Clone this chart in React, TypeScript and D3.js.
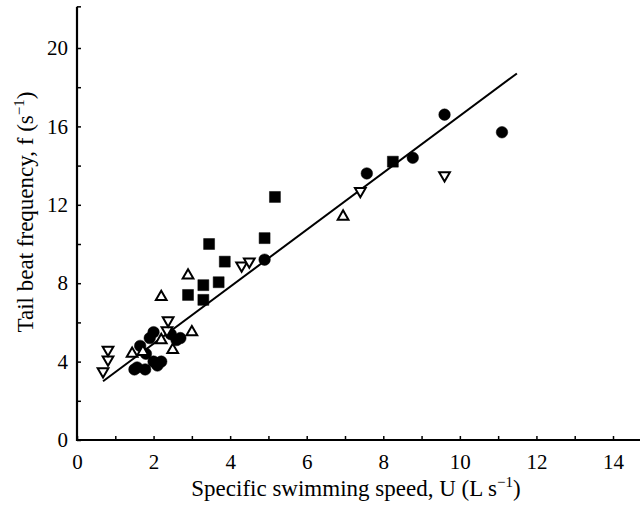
import React, { useRef, useEffect } from "react";
import * as d3 from "d3";

const W = 640;
const H = 517;
const FONT = "'Liberation Serif', 'Times New Roman', serif";

// filled circles
const circleU = [1.5, 1.78, 1.57, 2.1, 2.2, 2.0, 1.8, 1.65, 1.9, 2.0, 2.45, 2.6, 2.7, 4.9, 7.57, 8.77, 9.6, 11.1];
const circleF = [3.6, 3.6, 3.7, 3.8, 4.0, 4.0, 4.4, 4.8, 5.2, 5.5, 5.4, 5.1, 5.2, 9.2, 13.6, 14.4, 16.6, 15.7];
// filled squares
const squareU = [2.9, 3.3, 3.3, 3.45, 3.7, 3.86, 4.9, 5.17, 8.25];
const squareF = [7.4, 7.15, 7.9, 10.0, 8.05, 9.1, 10.3, 12.4, 14.2];
// open triangles (point up)
const upU = [1.44, 1.72, 2.2, 2.5, 3.0, 2.2, 2.9, 6.95];
const upF = [4.4, 4.5, 5.1, 4.6, 5.5, 7.3, 8.4, 11.4];
// open triangles (point down)
const downU = [0.68, 0.81, 0.81, 2.35, 2.38, 4.3, 4.5, 7.4, 9.6];
const downF = [3.5, 4.1, 4.6, 5.6, 6.1, 8.9, 9.1, 12.7, 13.5];
// regression line
const lineU = [0.68, 11.49];
const lineF = [3.0, 18.7];

const xTicks = [0, 1, 2, 3, 4, 5, 6, 7, 8, 9, 10, 11, 12, 13, 14];
const yTicks = [0, 2, 4, 6, 8, 10, 12, 14, 16, 18, 20];

const zip = (u: number[], f: number[]) => u.map((v, i) => ({ u: v, f: f[i] }));

export default function App() {
  const svgRef = useRef<SVGSVGElement>(null);

  useEffect(() => {
    const svg = d3.select(svgRef.current);
    svg.selectAll("*").remove();

    const x = d3.scaleLinear().domain([0, 14]).range([77, 613]);
    const y = d3.scaleLinear().domain([0, 20]).range([440, 48]);
    const yTop = y(22.1);

    // regression line
    const line = d3
      .line<{ u: number; f: number }>()
      .x((d) => x(d.u))
      .y((d) => y(d.f));
    svg
      .append("path")
      .datum(zip(lineU, lineF))
      .attr("fill", "none")
      .attr("stroke", "#000")
      .attr("stroke-width", 2)
      .attr("d", line);

    // axes
    const xAxisG = svg
      .append("g")
      .attr("transform", `translate(0,${y(0)})`)
      .call(
        d3
          .axisBottom(x)
          .tickValues(xTicks)
          .tickSize(-4)
          .tickFormat((v) => ((v as number) % 2 === 0 ? String(v) : ""))
      );
    xAxisG.select(".domain").remove();
    xAxisG.selectAll("line").attr("stroke", "#000").attr("stroke-width", 1.5);
    xAxisG
      .selectAll("text")
      .attr("font-family", FONT)
      .attr("font-size", 21)
      .attr("fill", "#000")
      .attr("dy", 0)
      .attr("y", 29);
    svg
      .append("line")
      .attr("x1", x(0) - 1)
      .attr("x2", W)
      .attr("y1", y(0))
      .attr("y2", y(0))
      .attr("stroke", "#000")
      .attr("stroke-width", 2.2);

    const yAxisG = svg
      .append("g")
      .attr("transform", `translate(${x(0)},0)`)
      .call(
        d3
          .axisLeft(y)
          .tickValues(yTicks)
          .tickSize(-4)
          .tickFormat((v) => ((v as number) % 4 === 0 ? String(v) : ""))
      );
    yAxisG.select(".domain").remove();
    yAxisG.selectAll("line").attr("stroke", "#000").attr("stroke-width", 1.5);
    yAxisG
      .selectAll("text")
      .attr("font-family", FONT)
      .attr("font-size", 21)
      .attr("fill", "#000")
      .attr("x", -9);
    svg
      .append("line")
      .attr("x1", x(0))
      .attr("x2", x(0))
      .attr("y1", yTop)
      .attr("y2", y(0) + 1)
      .attr("stroke", "#000")
      .attr("stroke-width", 2.2);
    svg
      .append("line")
      .attr("x1", x(0))
      .attr("x2", x(0) + 4)
      .attr("y1", yTop)
      .attr("y2", yTop)
      .attr("stroke", "#000")
      .attr("stroke-width", 1.5);

    // markers
    const plot = (
      data: { u: number; f: number }[],
      type: d3.SymbolType,
      size: number,
      fill: string,
      rotate = 0
    ) => {
      svg
        .append("g")
        .selectAll("path")
        .data(data)
        .join("path")
        .attr("d", d3.symbol().type(type).size(size)())
        .attr("transform", (d) => `translate(${x(d.u)},${y(d.f)}) rotate(${rotate})`)
        .attr("fill", fill)
        .attr("stroke", "#000")
        .attr("stroke-width", fill === "#000" ? 0.5 : 2);
    };
    plot(zip(circleU, circleF), d3.symbolCircle, 105, "#000");
    plot(zip(squareU, squareF), d3.symbolSquare, 120, "#000");
    plot(zip(upU, upF), d3.symbolTriangle, 50, "#fff");
    plot(zip(downU, downF), d3.symbolTriangle, 50, "#fff", 180);

    // axis titles
    const xt = svg
      .append("text")
      .attr("x", 356)
      .attr("y", 496)
      .attr("text-anchor", "middle")
      .attr("font-family", FONT)
      .attr("font-size", 23)
      .attr("fill", "#000");
    xt.append("tspan").text("Specific swimming speed, U (L s");
    xt.append("tspan").attr("dy", -9).attr("font-size", 15).text("−1");
    xt.append("tspan").attr("dy", 9).text(")");

    const yt = svg
      .append("text")
      .attr("transform", `translate(33,212) rotate(-90)`)
      .attr("text-anchor", "middle")
      .attr("font-family", FONT)
      .attr("font-size", 23)
      .attr("fill", "#000");
    yt.append("tspan").text("Tail beat frequency, f (s");
    yt.append("tspan").attr("dy", -9).attr("font-size", 15).text("−1");
    yt.append("tspan").attr("dy", 9).text(")");
  }, []);

  return (
    <svg
      ref={svgRef}
      width={W}
      height={H}
      style={{ position: "absolute", left: 0, top: 0, background: "#fff" }}
    />
  );
}
